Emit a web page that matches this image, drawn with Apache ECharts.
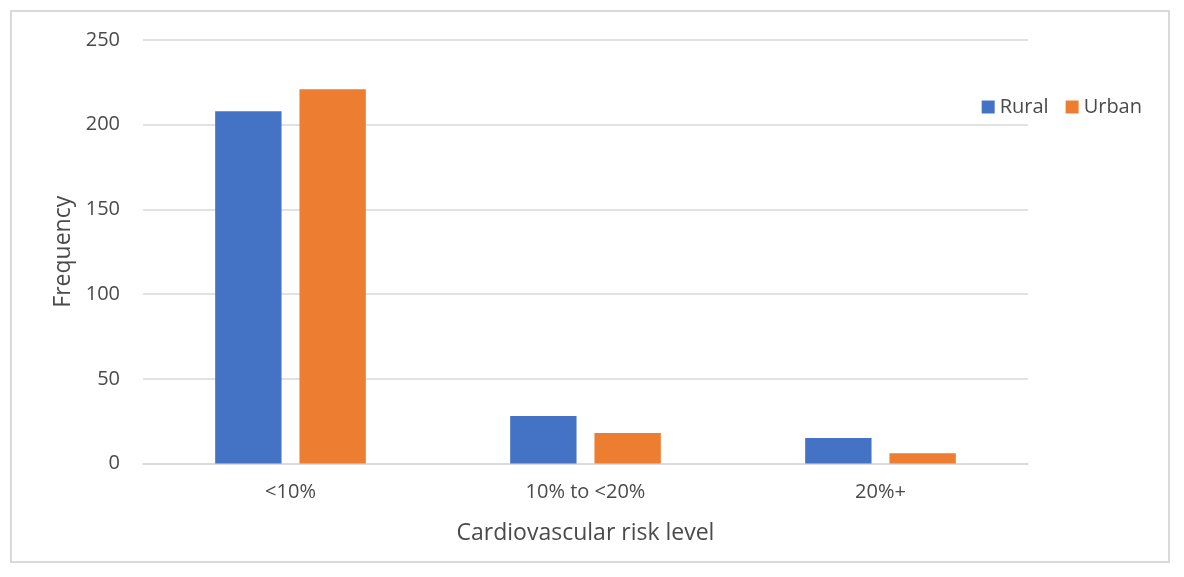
<!DOCTYPE html>
<html><head><meta charset="utf-8">
<script src="https://cdn.jsdelivr.net/npm/echarts@6/dist/echarts.min.js"></script>
<style>
html,body{margin:0;padding:0;background:#fff;}
#frame{position:absolute;left:10px;top:10px;width:1160px;height:553px;border:2px solid #d9d9d9;box-sizing:border-box;}
#c{position:absolute;left:0;top:0;width:1184px;height:577px;}
</style></head>
<body><div id="frame"></div><div id="c"></div>
<script>
const categories = ['<10%', '10% to <20%', '20%+'];
const rural = [208, 28, 15];
const urban = [221, 18, 6];
const yTicks = [0, 50, 100, 150, 200, 250];

const chart = echarts.init(document.getElementById('c'));
const font = '"Open Sans", Lato, sans-serif';
const txt = '#4a4a4a';
chart.setOption({
  animation: false,
  textStyle: {fontFamily: font},
  grid: {left: 143, right: 156, top: 40, bottom: 113.5},
  legend: {
    data: ['Rural', 'Urban'],
    right: 37, top: 92,
    itemWidth: 13, itemHeight: 13, itemGap: 17,
    icon: 'rect',
    textStyle: {fontSize: 20, color: txt, fontFamily: font}
  },
  xAxis: {
    type: 'category',
    data: categories,
    name: 'Cardiovascular risk level',
    nameLocation: 'middle',
    nameGap: 58,
    nameTextStyle: {fontSize: 23, color: txt},
    axisLine: {lineStyle: {color: '#d9d9d9', width: 1.5}},
    axisTick: {show: false},
    axisLabel: {fontSize: 20, color: txt, margin: 19}
  },
  yAxis: {
    type: 'value',
    min: yTicks[0], max: yTicks[yTicks.length-1], interval: 50,
    name: 'Frequency',
    nameLocation: 'middle',
    nameGap: 68,
    nameTextStyle: {fontSize: 23, color: txt},
    axisLine: {show: false},
    axisTick: {show: false},
    splitLine: {lineStyle: {color: '#d9d9d9', width: 1.5}},
    axisLabel: {fontSize: 20, color: txt, margin: 23}
  },
  series: [
    {name: 'Rural', type: 'bar', data: rural, itemStyle: {color: '#4472c4'}, barWidth: '22.5%', barGap: '27%'},
    {name: 'Urban', type: 'bar', data: urban, itemStyle: {color: '#ed7d31'}, barWidth: '22.5%', barGap: '27%'}
  ]
});
</script></body></html>
